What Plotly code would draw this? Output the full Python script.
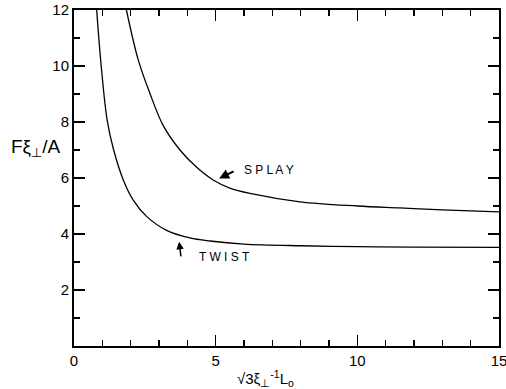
import plotly.graph_objects as go

twist_x = [0.80, 0.96, 1.17, 1.40, 1.74, 2.09, 2.57, 3.27, 4.09, 4.8, 6.0, 8.0, 10.0, 12.0, 15.0]
twist_y = [12.0, 10.0, 8.07, 7.0, 5.93, 5.21, 4.62, 4.13, 3.86, 3.75, 3.64, 3.58, 3.55, 3.53, 3.52]

splay_x = [1.85, 2.27, 2.68, 3.15, 3.74, 4.33, 4.91, 5.5, 6.21, 7.98, 10.0, 11.5, 13.0, 15.0]
splay_y = [12.0, 10.21, 9.02, 7.87, 7.0, 6.38, 5.93, 5.64, 5.45, 5.15, 5.0, 4.93, 4.86, 4.79]

x_ticks = [0, 5, 10, 15]
y_ticks = [2, 4, 6, 8, 10, 12]

FONT = "Liberation Sans"

fig = go.Figure()
fig.add_trace(go.Scatter(x=twist_x, y=twist_y, mode="lines", name="TWIST",
                         line=dict(color="black", width=1.3, shape="spline", smoothing=1.0)))
fig.add_trace(go.Scatter(x=splay_x, y=splay_y, mode="lines", name="SPLAY",
                         line=dict(color="black", width=1.3, shape="spline", smoothing=1.0)))

axis_common = dict(
    automargin=False, ticklabeloverflow="allow",
    showgrid=False, zeroline=False, showline=True, linecolor="black", linewidth=2,
    mirror="allticks", ticks="inside", ticklen=11, tickwidth=1.5, tickcolor="black",
    tickfont=dict(family=FONT, size=15, color="black"),
)

fig.update_xaxes(range=[0, 15], tickvals=x_ticks, ticktext=[str(v) for v in x_ticks],
                 minor=dict(dtick=1, ticks="inside", ticklen=6, tickwidth=1.2, tickcolor="black"),
                 **axis_common)
fig.update_yaxes(range=[0, 12], tickvals=y_ticks, ticktext=[str(v) for v in y_ticks],
                 minor=dict(dtick=1, ticks="inside", ticklen=6, tickwidth=1.2, tickcolor="black"),
                 **axis_common)

fig.add_annotation(xref="paper", yref="paper", x=-0.028, y=0.59, xanchor="right", yanchor="middle",
                   text="Fξ<sub>⊥</sub>/A", showarrow=False,
                   font=dict(family=FONT, size=19, color="black"))
fig.add_annotation(xref="paper", yref="paper", x=0.45, y=-0.097, xanchor="center", yanchor="middle",
                   text="√3ξ<sub>⊥</sub><sup>-1</sup>L<sub>o</sub>", showarrow=False,
                   font=dict(family=FONT, size=15, color="black"))

fig.add_annotation(x=5.92, y=6.29, xanchor="left", yanchor="middle", text="S P L A Y",
                   showarrow=False, font=dict(family=FONT, size=12, color="black"))
fig.add_annotation(x=5.12, y=5.98, ax=16, ay=-8, text="", showarrow=True,
                   arrowhead=2, arrowsize=1, arrowwidth=2, arrowcolor="black")
fig.add_annotation(x=4.35, y=3.18, xanchor="left", yanchor="middle", text="T W I S T",
                   showarrow=False, font=dict(family=FONT, size=12, color="black"))
fig.add_annotation(x=3.71, y=3.72, ax=2, ay=16, text="", showarrow=True,
                   arrowhead=2, arrowsize=1, arrowwidth=1.5, arrowcolor="black")

fig.update_layout(width=506, height=389, margin=dict(l=74, r=7, t=10, b=43, autoexpand=False),
                  plot_bgcolor="white", paper_bgcolor="white", showlegend=False)

fig.write_html(
    "out.html",
    config={"displayModeBar": False, "staticPlot": True},
    post_script=(
        "document.documentElement.style.margin='0';"
        "document.documentElement.style.padding='0';"
        "document.documentElement.style.overflow='hidden';"
        "document.body.style.margin='0';"
        "document.body.style.padding='0';"
        "document.body.style.overflow='hidden';"
    ),
)
